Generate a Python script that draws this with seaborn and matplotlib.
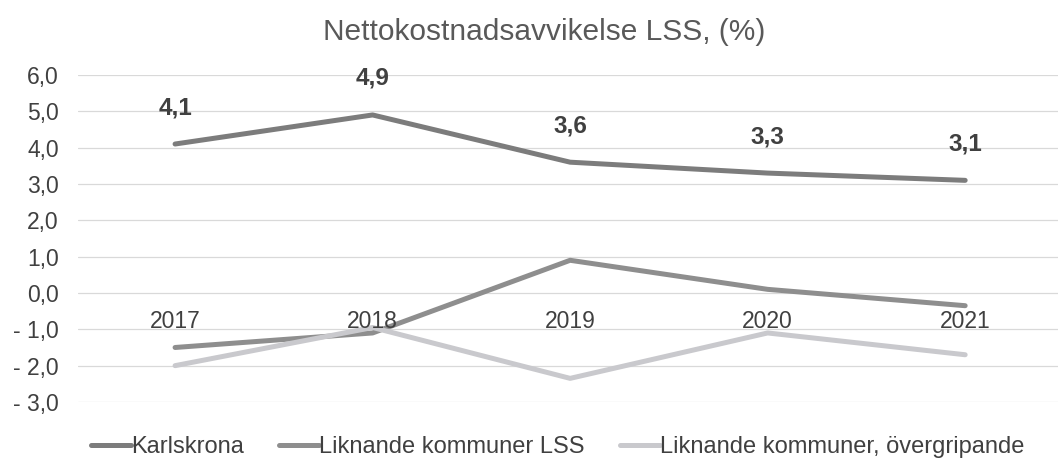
import matplotlib
matplotlib.use('Agg')
import matplotlib.pyplot as plt
from matplotlib.ticker import FuncFormatter
import seaborn as sns
import pandas as pd

# Data
ar = ['2017', '2018', '2019', '2020', '2021']
karlskrona = [4.1, 4.9, 3.6, 3.3, 3.1]
liknande_lss = [-1.5, -1.1, 0.9, 0.1, -0.35]
liknande_overgripande = [-2.0, -0.95, -2.35, -1.1, -1.7]

serier = ['Karlskrona', 'Liknande kommuner LSS', 'Liknande kommuner, övergripande']
farger = ['#7c7c7c', '#8e8e8e', '#c9c9cd']

sns.set_theme(style='white')
plt.rcParams['font.family'] = ['Liberation Sans', 'DejaVu Sans']

df = pd.DataFrame({
    'x': list(range(len(ar))) * 3,
    'varde': karlskrona + liknande_lss + liknande_overgripande,
    'serie': [s for s in serier for _ in ar],
})

fig = plt.figure(figsize=(10.58, 4.62), dpi=100)
ax = fig.add_axes([0.074, 0.1299, 0.926, 0.7078])

sns.lineplot(data=df, x='x', y='varde', hue='serie', palette=farger,
             linewidth=3.6, ax=ax, legend=False, sort=False)
for line in ax.get_lines():
    line.set_solid_capstyle('round')
    line.set_solid_joinstyle('round')

ax.set_xlim(-0.49, 4.47)
ax.set_ylim(-3, 6)
ax.set_yticks(range(-3, 7))
ax.yaxis.set_major_formatter(FuncFormatter(
    lambda v, p: ('- ' if v < 0 else '') + f'{abs(v):.1f}'.replace('.', ',')))
ax.set_xticks([])
ax.set_xlabel('')
ax.set_ylabel('')
ax.tick_params(axis='y', labelsize=16.5, colors='#404040', pad=14, length=0)
ax.grid(axis='y', color='#d9d9d9', linewidth=0.9)
ax.set_axisbelow(True)
for s in ax.spines.values():
    s.set_visible(False)

# Year labels sit just under the zero line (Excel category axis)
for i, a in enumerate(ar):
    ax.annotate(a, (i, 0), xytext=(0, -12), textcoords='offset points',
                ha='center', va='top', fontsize=16.5, color='#404040')

# Data labels for Karlskrona
for i, v in enumerate(karlskrona):
    ax.annotate(f'{v:.1f}'.replace('.', ','), (i, v), xytext=(0, 18),
                textcoords='offset points', ha='center', va='bottom',
                fontsize=17.5, fontweight='bold', color='#404040')

fig.text(0.514, 0.931, 'Nettokostnadsavvikelse LSS, (%)', ha='center',
         va='center', fontsize=21.5, color='#595959')

handles = [plt.Line2D([], [], color=c, linewidth=3.6, solid_capstyle='round') for c in farger]
fig.legend(handles, serier, loc='center', bbox_to_anchor=(0.527, 0.032), ncol=3,
           frameon=False, fontsize=17, handlelength=1.7, handletextpad=0.0,
           columnspacing=1.5, labelcolor='#404040')

plt.savefig('out.png', dpi=100)
